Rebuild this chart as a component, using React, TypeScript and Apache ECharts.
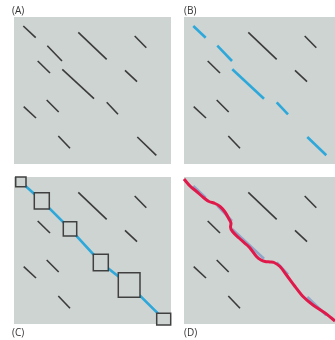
import React, { useEffect, useRef } from "react";
import * as echarts from "echarts";

const panelLabels = ["(A)", "(B)", "(C)", "(D)"];

// short diagonal segments [x1, y1, x2, y2], in panel units (from panel top-left)
const segments: number[][] = [
  [9.3, 9, 21.7, 20.7],
  [64.3, 15.3, 92.7, 42.3],
  [120.7, 19, 132.3, 30.7],
  [33.3, 28.7, 48, 44],
  [23.7, 44, 36, 56],
  [48.3, 52.3, 80, 81.7],
  [111, 53.3, 123, 64.7],
  [9.7, 89.7, 22, 101],
  [32.7, 83, 44.7, 95],
  [92.7, 85.3, 104, 97.3],
  [44.3, 119, 56, 131.3],
  [123.3, 120, 142.3, 138.3],
];

// segments that lie on the main diagonal (coloured in B)
const diagonalIdx = [0, 3, 5, 9, 11];

// boxes in panel C [x1, y1, x2, y2]
const boxes: number[][] = [
  [1.7, 0, 12, 9.7],
  [20.3, 15.7, 35.3, 32],
  [49.3, 44.7, 62.7, 59],
  [79.3, 77.3, 94.3, 93.7],
  [104.3, 95.7, 126, 120.3],
  [142.7, 136.3, 156.7, 148],
];

// blue path joining the boxes in panel C
const bluePath: number[][] = [
  [6.8, 4.8],
  [27.8, 23.8],
  [56, 51.8],
  [86.8, 85.5],
  [115.2, 108],
  [149.7, 142.2],
];

// red alignment path in panel D
const redPath: number[][] = [
  [0, 2], [6, 9], [12, 14], [20, 21], [25, 24.5], [31, 26.5], [36, 29.5],
  [41, 35], [45, 42], [47, 46.5], [46.5, 50], [48.5, 54.5], [55, 61],
  [63, 68], [66, 71], [72.5, 79.5], [77, 83], [81, 84.5], [86, 85],
  [90, 85.5], [96, 89.5], [102.5, 98], [111, 109.5], [119, 119.5],
  [129, 128], [141, 136], [151, 144],
];

const BG = "#ced4d1";
const DARK = "#3b3b3b";
const BLUE = "#2ea8da";
const RED = "#e0194b";

export default function App() {
  const ref = useRef<HTMLDivElement>(null);
  useEffect(() => {
    if (!ref.current) return;
    const chart = echarts.init(ref.current, undefined, { renderer: "svg" });

    const grids = [
      { left: 14, top: 17, width: 157, height: 147 },
      { left: 184, top: 17, width: 151, height: 147 },
      { left: 14, top: 177, width: 157, height: 147 },
      { left: 184, top: 177, width: 151, height: 147 },
    ].map((g) => ({ ...g, show: true, backgroundColor: BG, borderWidth: 0, containLabel: false }));

    const xMax = [157, 151, 157, 151];
    const xAxis = xMax.map((m, i) => ({ type: "value", gridIndex: i, min: 0, max: m, show: false }));
    const yAxis = [0, 1, 2, 3].map((i) => ({ type: "value", gridIndex: i, min: 0, max: 147, inverse: true, show: false }));

    const toLines = (idx: number[]) =>
      idx.map((k) => ({ coords: [[segments[k][0], segments[k][1]], [segments[k][2], segments[k][3]]] }));
    const all = segments.map((_, k) => k);
    const offDiag = all.filter((k) => !diagonalIdx.includes(k));

    const segSeries = (i: number, idx: number[], color: string, width: number, z = 2) => ({
      type: "lines",
      coordinateSystem: "cartesian2d",
      xAxisIndex: i,
      yAxisIndex: i,
      z,
      silent: true,
      lineStyle: { color, width, opacity: 1 },
      data: toLines(idx),
    });

    const series: any[] = [
      segSeries(0, all, DARK, 1.6),
      segSeries(1, offDiag, DARK, 1.6),
      segSeries(1, diagonalIdx, BLUE, 2.6),
      segSeries(2, offDiag, DARK, 1.6),
      {
        type: "lines",
        coordinateSystem: "cartesian2d",
        xAxisIndex: 2,
        yAxisIndex: 2,
        polyline: true,
        z: 2,
        silent: true,
        lineStyle: { color: BLUE, width: 2.6, opacity: 1 },
        data: [{ coords: bluePath }],
      },
      {
        type: "custom",
        xAxisIndex: 2,
        yAxisIndex: 2,
        z: 3,
        clip: false,
        silent: true,
        data: boxes,
        renderItem: (_p: any, api: any) => {
          const a = api.coord([api.value(0), api.value(1)]);
          const b = api.coord([api.value(2), api.value(3)]);
          return {
            type: "rect",
            shape: { x: a[0], y: a[1], width: b[0] - a[0], height: b[1] - a[1] },
            style: { fill: BG, stroke: "#404040", lineWidth: 1.5 },
          };
        },
      },
      segSeries(3, offDiag, DARK, 1.6),
      segSeries(3, diagonalIdx, "#8fa6c8", 2.6),
      {
        type: "line",
        xAxisIndex: 3,
        yAxisIndex: 3,
        z: 4,
        silent: true,
        showSymbol: false,
        smooth: 0.3,
        lineStyle: { color: RED, width: 3 },
        data: redPath,
      },
    ];

    const labelPos = [
      [12, 5],
      [184, 5],
      [12, 327],
      [184, 327],
    ];

    chart.setOption({
      animation: false,
      grid: grids,
      xAxis,
      yAxis,
      series,
      graphic: panelLabels.map((t, i) => ({
        type: "text",
        left: labelPos[i][0],
        top: labelPos[i][1],
        style: { text: t, fill: "#333", font: "10px 'Open Sans', sans-serif" },
      })),
    });
    return () => chart.dispose();
  }, []);
  return <div ref={ref} style={{ position: "fixed", left: 0, top: 0, width: 335, height: 340 }} />;
}
